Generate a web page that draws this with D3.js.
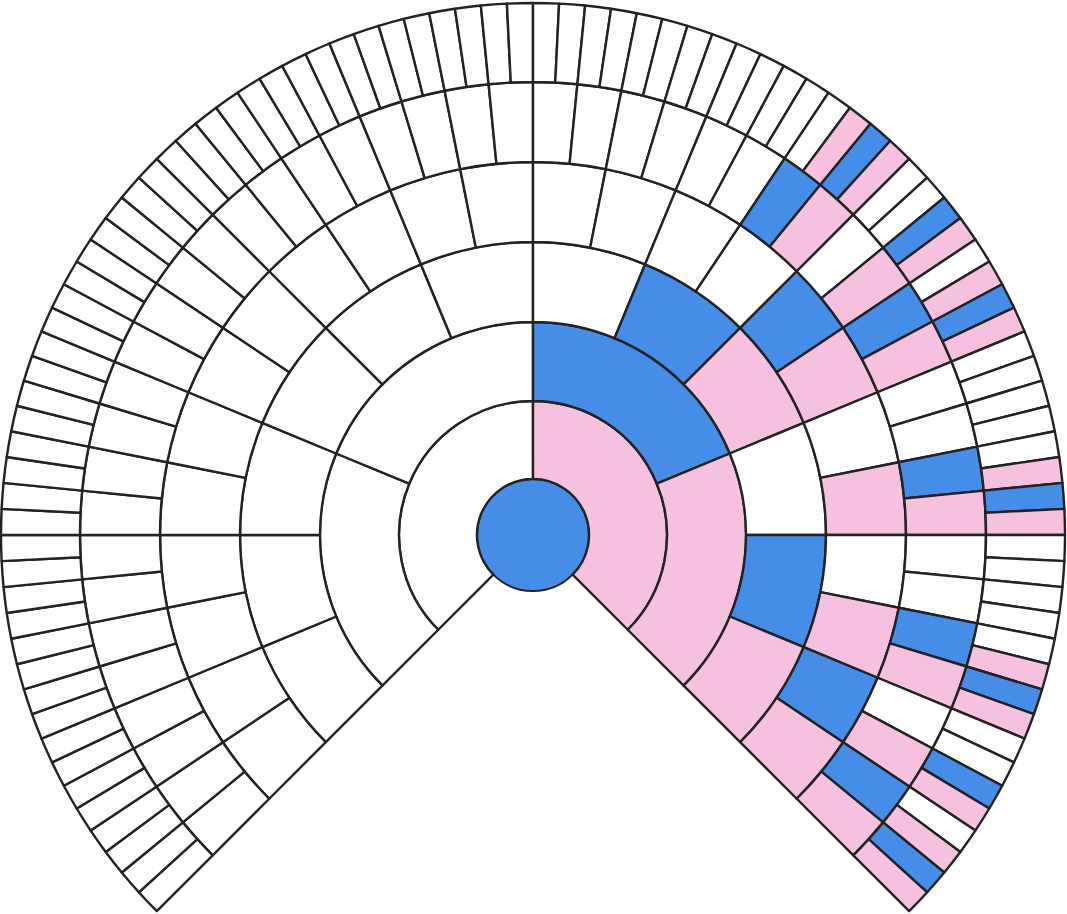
<!DOCTYPE html>
<html><head><meta charset="utf-8">
<script src="https://cdn.jsdelivr.net/npm/d3@7"></script>
<style>body{margin:0;background:#fff}</style></head>
<body><svg id="c" width="1067" height="914"></svg>
<script>
// Fan chart: each generation's cells, left to right (clockwise from -135° to 135°)
// codes: w = unknown (white), b = male (blue), p = female (pink)
const gen0 = ["b"];
const gen1 = ["w","p"];
const gen2 = ["w","w","b","p"];
const gen3 = [..."wwwwww", ..."wbpwbp"];
const gen4 = [..."wwwwwwwwwwww", ..."wwwwbpwpwpbp"];
const gen5 = [..."wwwwwwwwwwwwwwwwwwwwwwww", ..."wwwwwwbpwpbpwwbpwwbpwpbp"];
const gen6 = [..."wwwwwwwwwwwwwwwwwwwwwwwwwwwwwwwwwwwwwwwwwwwwwwww",
              ..."wwwwwwwwwwwwwpbpwwbpwpbpwwwwwpbpwwwwwpbpwwbpwpbp"];
const generations = [gen0, gen1, gen2, gen3, gen4, gen5, gen6];
const ringEdges = [0, 56, 134, 213, 293, 373, 453, 532];
const palette = {w: "#ffffff", b: "#468de8", p: "#f5c1df"};

const svg = d3.select("#c");
const g = svg.append("g").attr("transform", "translate(533,535)");
const angle = d3.scaleLinear().domain([0, 1]).range([-135 * Math.PI / 180, 135 * Math.PI / 180]);
const radius = d3.scaleOrdinal().domain(d3.range(ringEdges.length)).range(ringEdges);
const arc = d3.arc();

generations.forEach((cells, n) => {
  if (n === 0) {
    g.append("circle").attr("r", radius(1)).attr("fill", palette[cells[0]])
      .attr("stroke", "#222").attr("stroke-width", 2);
    return;
  }
  const c = cells.length;
  g.selectAll(null).data(cells).enter().append("path")
    .attr("d", (d, i) => arc({innerRadius: radius(n), outerRadius: radius(n + 1),
      startAngle: angle(i / c), endAngle: angle((i + 1) / c)}))
    .attr("fill", d => palette[d])
    .attr("stroke", "#222").attr("stroke-width", 2.4).attr("stroke-linejoin", "round");
});
</script></body></html>
